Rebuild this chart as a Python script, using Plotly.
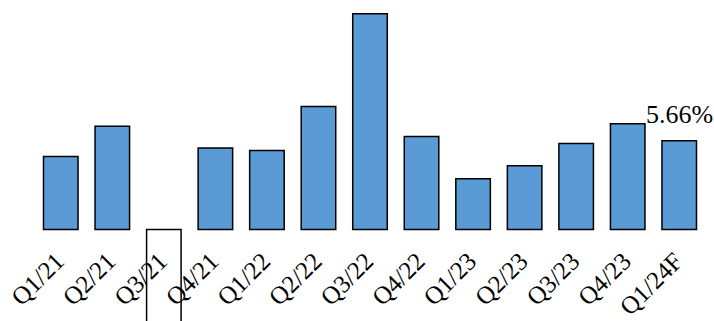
import plotly.graph_objects as go

quarters = ["Q1/21", "Q2/21", "Q3/21", "Q4/21", "Q1/22", "Q2/22", "Q3/22",
            "Q4/22", "Q1/23", "Q2/23", "Q3/23", "Q4/23", "Q1/24F"]
growth_pct = [4.66, 6.59, -7.0, 5.21, 5.04, 7.85, 13.78,
              5.93, 3.24, 4.07, 5.49, 6.75, 5.66]

labelled_quarter = "Q1/24F"
labelled_value = growth_pct[quarters.index(labelled_quarter)]

BLUE = "#5B9BD5"
SERIF = "Liberation Serif"

# negative bars are drawn hollow (inverted fill)
fills = [BLUE if v >= 0 else "white" for v in growth_pct]

y_lo, y_hi = -5.84, 14.65
baseline_pos = (0 - y_lo) / (y_hi - y_lo)

fig = go.Figure(
    go.Bar(
        x=quarters,
        y=growth_pct,
        marker=dict(color=fills, line=dict(color="black", width=1.5)),
        width=0.67,
        hoverinfo="skip",
    )
)

fig.add_annotation(
    x=labelled_quarter, y=labelled_value, xref="x", yref="y",
    text=f"{labelled_value:.2f}%", showarrow=False,
    yanchor="bottom", xanchor="center", yshift=10,
    font=dict(family=SERIF, size=26, color="black"),
)

fig.update_layout(
    width=714, height=321,
    margin=dict(l=35, r=9, t=0, b=0),
    paper_bgcolor="white", plot_bgcolor="white",
    showlegend=False,
    xaxis=dict(
        anchor="free", position=baseline_pos, range=[-0.5, 12.5],
        automargin=False,
        tickangle=-45, showline=False, showgrid=False, ticks="",
        ticklabelstandoff=11, ticklabelshift=-4,
        tickfont=dict(family=SERIF, size=25, color="black"),
    ),
    yaxis=dict(range=[y_lo, y_hi], visible=False, showgrid=False,
               zeroline=False, automargin=False),
)

fig.write_html("out.html")
